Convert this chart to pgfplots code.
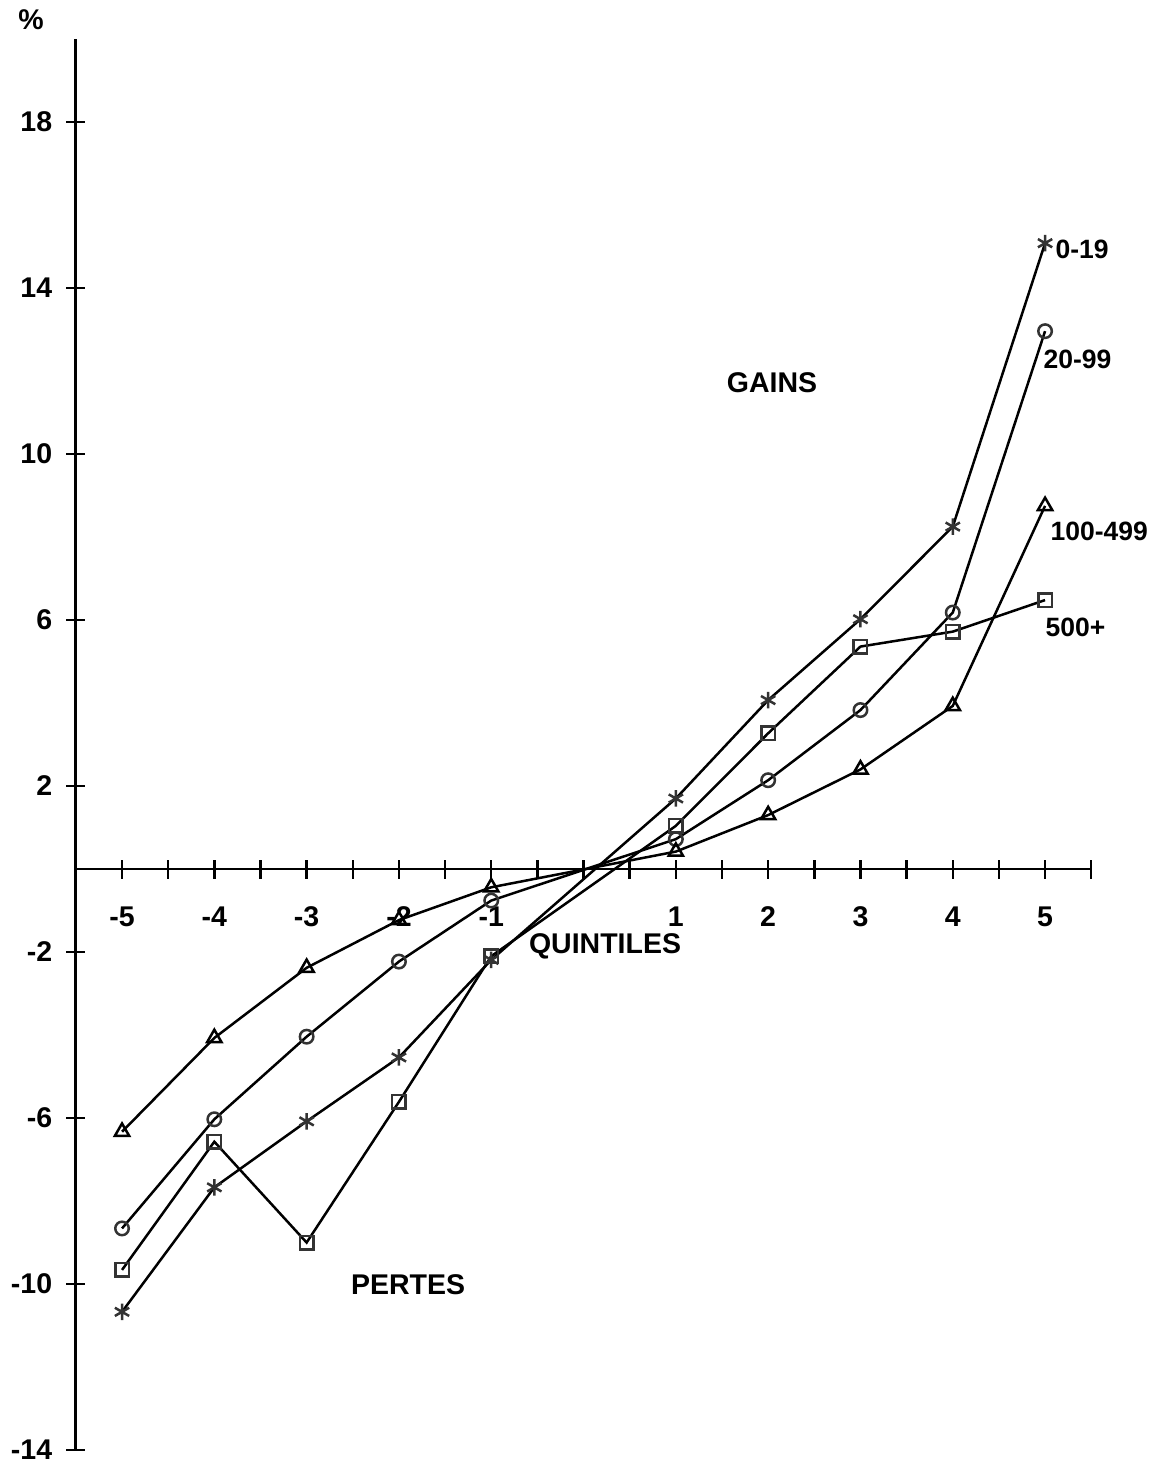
\documentclass[border=0pt]{standalone}
\usepackage{fontspec}
\setmainfont{Liberation Sans}
\usepackage{pgfplots}
\pgfplotsset{compat=1.18}

\definecolor{markgray}{HTML}{333333}

\pgfplotstableread{
x y
-5 -10.67
-4 -7.67
-3 -6.08
-2 -4.54
-1 -2.19
1 1.70
2 4.07
3 6.02
4 8.25
5 15.08
}\zeroNineteen

\pgfplotstableread{
x y
-5 -8.66
-4 -6.03
-3 -4.04
-2 -2.23
-1 -0.76
1 0.72
2 2.14
3 3.83
4 6.18
5 12.96
}\twentyNinetyNine

\pgfplotstableread{
x y
-5 -6.33
-4 -4.07
-3 -2.38
-2 -1.23
-1 -0.44
1 0.42
2 1.30
3 2.40
4 3.93
5 8.75
}\hundred

\pgfplotstableread{
x y
-5 -9.66
-4 -6.57
-3 -9.00
-2 -5.61
-1 -2.10
1 1.04
2 3.27
3 5.36
4 5.72
5 6.48
}\fivehundred

\begin{document}
\begin{tikzpicture}
\begin{axis}[
  x=36.92pt, y=16.6pt,
  xmin=-5.5, xmax=5.5,
  ymin=-14, ymax=20,
  axis x line*=middle,
  axis y line*=left,
  axis line style={line width=1.1pt},
  clip=false,
  tick align=center,
  major tick length=7.6pt,
  tick style={black, line width=1pt},
  xtick={-5.5,-5,-4.5,-4,-3.5,-3,-2.5,-2,-1.5,-1,-0.5,0,0.5,1,1.5,2,2.5,3,3.5,4,4.5,5,5.5},
  xticklabels={,-5,,-4,,-3,,-2,,-1,,,,1,,2,,3,,4,,5,},
  ytick={-14,-10,-6,-2,2,6,10,14,18},
  yticklabels={-14,-10,-6,-2,2,6,10,14,18},
  ticklabel style={font=\fontsize{11.4}{13}\selectfont\bfseries, inner sep=0pt},
  xticklabel style={anchor=north, yshift=-11pt},
  yticklabel style={anchor=east, xshift=-5.5pt},
  cycle list={{black}},
]
\addplot[black, line width=1pt, mark=asterisk, mark size=3.3pt,
  mark options={draw=markgray, line width=1pt, solid}] table {\zeroNineteen};
\addplot[black, line width=1pt, mark=o, mark size=2.7pt,
  mark options={draw=markgray, fill=white, line width=1pt, solid}] table {\twentyNinetyNine};
\addplot[black, line width=1pt, mark=triangle, mark size=3.3pt,
  mark options={draw=black, fill=white, line width=1pt, solid}] table {\hundred};
\addplot[black, line width=1pt, mark=square, mark size=2.7pt,
  mark options={draw=markgray, fill=white, line width=1pt, solid}] table {\fivehundred};

\begin{scope}[every node/.style={font=\fontsize{11.4}{13}\selectfont\bfseries, inner sep=0pt}]
\node at (axis cs:-5.986,20.46) {\%};
\node at (axis cs:2.042,11.71) {GAINS};
\node at (axis cs:0.233,-1.87) {QUINTILES};
\node at (axis cs:-1.901,-10.02) {PERTES};
\end{scope}
\begin{scope}[every node/.style={font=\fontsize{10.6}{12}\selectfont\bfseries, inner sep=0pt, anchor=west}]
\node at (axis cs:5.108,14.92) {0-19};
\node at (axis cs:4.978,12.29) {20-99};
\node at (axis cs:5.054,8.14) {100-499};
\node at (axis cs:5.0,5.83) {500+};
\end{scope}

\coordinate (bb1) at (axis cs:-6.322,-14.36);
\coordinate (bb2) at (axis cs:6.192,20.94);
\end{axis}
\pgfresetboundingbox
\path[use as bounding box] (bb1) rectangle (bb2);
\end{tikzpicture}
\end{document}
